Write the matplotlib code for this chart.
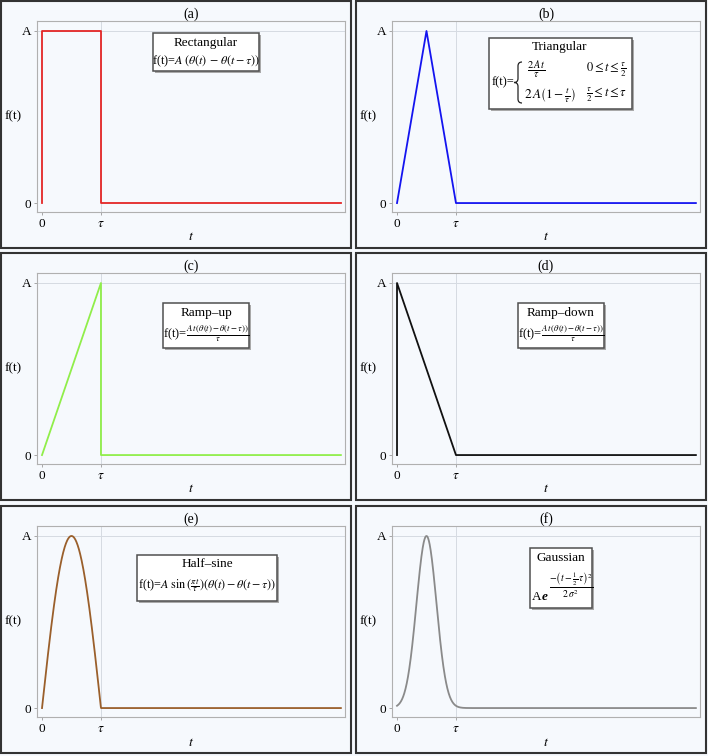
import numpy as np
import matplotlib
matplotlib.use('Agg')
from matplotlib import pyplot as plt
from matplotlib.patches import Rectangle, PathPatch
from matplotlib.path import Path

plt.rcParams['font.family'] = ['Liberation Serif', 'DejaVu Serif']
plt.rcParams['mathtext.fontset'] = 'stix'

# pulse parameters (tau = 1, A = 1)
TAU = 1.0
AMP = 1.0
T_END = 5.07
SIGMA = 0.17

# piecewise pulses as vertices
rect_t = [0, 0, TAU, TAU, T_END]
rect_f = [0, AMP, AMP, 0, 0]
tri_t = [0, TAU / 2, TAU, T_END]
tri_f = [0, AMP, 0, 0]
rampup_t = [0, TAU, TAU, T_END]
rampup_f = [0, AMP, 0, 0]
rampdown_t = [0, 0, TAU, T_END]
rampdown_f = [0, AMP, 0, 0]

# smooth pulses from the formulas in the boxes
t = np.linspace(0, T_END, 1200)
halfsine_f = np.where(t <= TAU, AMP * np.sin(np.pi * t / TAU), 0)
gauss_f = AMP * np.exp(-(t - TAU / 2) ** 2 / (2 * SIGMA ** 2))

labels = ['(a)', '(b)', '(c)', '(d)', '(e)', '(f)']
colors = ['#e42626', '#1414f0', '#90ee4a', '#111111', '#9a5f2b', '#8a8a8a']
series = [(rect_t, rect_f), (tri_t, tri_f), (rampup_t, rampup_f),
          (rampdown_t, rampdown_f), (t, halfsine_f), (t, gauss_f)]

xticks = [0, TAU]
xticklabels = ['0', r'$\tau$']
yticks = [0, AMP]
yticklabels = ['0', 'A']

W, H = 708, 756
BG = '#f6f9fd'

def fx(x):
    return x / W

def fy(y):
    return 1 - y / H

fig = plt.figure(figsize=(W / 100, H / 100), dpi=100, facecolor=BG)

def ftext(x, y, s, size=9, ha='center', **kw):
    fig.text(fx(x), fy(y), s, fontsize=size, ha=ha, va='center', zorder=8, **kw)

def box(x0, y0, x1, y1):
    sh = Rectangle((fx(x0 + 2), fy(y1 + 2)), (x1 - x0) / W, (y1 - y0) / H,
                   transform=fig.transFigure, facecolor='#a9a9a9',
                   edgecolor='none', zorder=6)
    bx = Rectangle((fx(x0), fy(y1)), (x1 - x0) / W, (y1 - y0) / H,
                   transform=fig.transFigure, facecolor='white',
                   edgecolor='#505050', lw=1.1, zorder=7)
    fig.add_artist(sh)
    fig.add_artist(bx)

def brace(xl, xr, y0, y1, r=4):
    # left curly brace drawn in pixel coords
    xm = (xl + xr) / 2
    ym = (y0 + y1) / 2
    pts = [(xr, y0), (xm, y0), (xm, y0 + r), (xm, ym - r), (xm, ym), (xl, ym),
           (xm, ym), (xm, ym + r), (xm, y1 - r), (xm, y1), (xr, y1)]
    codes = [Path.MOVETO, Path.CURVE3, Path.CURVE3, Path.LINETO, Path.CURVE3,
             Path.CURVE3, Path.CURVE3, Path.CURVE3, Path.LINETO, Path.CURVE3,
             Path.CURVE3]
    p = Path([(fx(a), fy(b)) for a, b in pts], codes)
    fig.add_artist(PathPatch(p, transform=fig.transFigure, facecolor='none',
                             edgecolor='#222222', lw=0.9, zorder=8))

col_x = [0, 355]
row_y = [0, 252, 505]

for i, (lab, col, (xs, ys)) in enumerate(zip(labels, colors, series)):
    cx = col_x[i % 2]
    ry = row_y[i // 2]

    # panel frame
    y1 = min(ry + 248, 754)
    fr = Rectangle((fx(cx + 1), fy(y1)), 350 / W, (y1 - ry - 1) / H,
                   transform=fig.transFigure, facecolor='none',
                   edgecolor='#333333', lw=1.5, zorder=1)
    fig.add_artist(fr)

    left, top, w, h = 37 + cx, 21 + ry, 308, 191
    ax = fig.add_axes([fx(left), fy(top + h), w / W, h / H])
    ax.set_facecolor(BG)
    ax.axvline(TAU, color='#d6dbe2', lw=0.7, zorder=1)
    ax.axhline(AMP, color='#d6dbe2', lw=0.7, zorder=1)
    ax.plot(xs, ys, color=col, lw=1.3, zorder=3)
    ax.set_xlim(-0.085, 5.14)
    ax.set_ylim(-0.052, 1.058)
    ax.set_xticks(xticks)
    ax.set_xticklabels(xticklabels)
    ax.set_yticks(yticks)
    ax.set_yticklabels(yticklabels)
    ax.tick_params(direction='out', length=2.5, width=0.6, color='#999999',
                   pad=1.5, labelsize=9.5)
    for sp in ax.spines.values():
        sp.set_color('#b0b0b0')
        sp.set_linewidth(0.8)
    ax.set_title(lab, fontsize=10, pad=1.5)

    ftext(cx + 13, top + h / 2, 'f(t)', 9.5)
    ftext(left + w / 2, top + h + 25, r'$t$', 10)

# (a) rectangular
box(153, 33, 259, 71)
ftext(206, 43, 'Rectangular', 9.5)
ftext(206, 61, r'f(t)=$A\ (\theta(t)\,-\,\theta(t-\tau))$', 8.7)

# (b) triangular
box(489, 38, 632, 109)
ftext(560, 47, 'Triangular', 9.5)
ftext(492, 82, 'f(t)=', 9, ha='left')
brace(514, 522, 62, 103)
ftext(527, 69, r'$\frac{2\,A\,t}{\tau}$', 10.5, ha='left')
ftext(586, 70, r'$0\leq t\leq\frac{\tau}{2}$', 9, ha='left')
ftext(524, 95, r'$2\,A\left(1-\frac{t}{\tau}\right)$', 9.5, ha='left')
ftext(586, 95, r'$\frac{\tau}{2}\leq t\leq\tau$', 9, ha='left')

# (c) ramp-up
box(163, 303, 249, 348)
ftext(206, 313, 'Ramp\u2013up', 9.5)
ftext(206, 334, r'f(t)=$\frac{A\,t\,(\theta(t)-\theta(t-\tau))}{\tau}$', 9)

# (d) ramp-down
box(518, 303, 604, 348)
ftext(561, 313, 'Ramp\u2013down', 9.5)
ftext(561, 334, r'f(t)=$\frac{A\,t\,(\theta(t)-\theta(t-\tau))}{\tau}$', 9)

# (e) half-sine
box(137, 555, 277, 601)
ftext(207, 564, 'Half\u2013sine', 9.5)
ftext(207, 586, r'f(t)=$A\ \sin\left(\frac{\pi\,t}{\tau}\right)(\theta(t)-\theta(t-\tau))$', 8.7)

# (f) gaussian
box(530, 548, 592, 608)
ftext(561, 558, 'Gaussian', 9.5)
ftext(532, 597, 'A', 9.5, ha='left')
ftext(542, 597, 'e', 9.5, ha='left', fontstyle='italic', fontweight='bold')
ftext(571, 585, r'$\frac{-\left(t-\frac{1}{2}\,\tau\right)^2}{2\,\sigma^2}$', 10)

fig.savefig('out.png', dpi=100, facecolor=BG)
